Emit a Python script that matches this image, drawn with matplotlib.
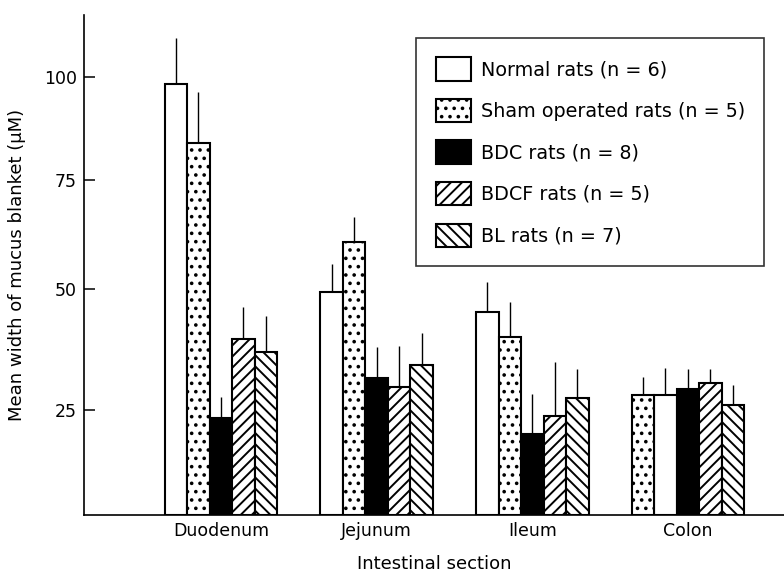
import numpy as np
import matplotlib
matplotlib.use("Agg")
import matplotlib.pyplot as plt

# data (mean and upper SD, in uM)
sections = ["Duodenum", "Jejunum", "Ileum", "Colon"]
series = ["Normal rats (n = 6)", "Sham operated rats (n = 5)", "BDC rats (n = 8)",
          "BDCF rats (n = 5)", "BL rats (n = 7)"]
normal = [98.3, 49.4, 45.2, 28.1]
sham = [84.0, 60.8, 40.1, 28.1]
bdc = [23.1, 31.6, 19.3, 29.3]
bdcf = [39.7, 29.8, 23.6, 30.6]
bl = [37.0, 34.3, 27.5, 26.0]
normal_err = [11.2, 6.3, 6.4, 5.6]
sham_err = [12.4, 5.7, 7.2, 3.7]
bdc_err = [4.6, 6.4, 9.0, 4.2]
bdcf_err = [6.6, 8.4, 11.3, 2.9]
bl_err = [7.4, 6.6, 6.0, 4.2]
yticks = [25, 50, 75, 100]

means = [normal, sham, bdc, bdcf, bl]
errs = [normal_err, sham_err, bdc_err, bdcf_err, bl_err]
fills = ["white", "white", "black", "white", "white"]
hatches = [None, "..", None, "///", "\\\\\\"]
# slot of each series inside a group (colon has sham and normal swapped)
slots = [[0, 1, 2, 3, 4]] * 3 + [[1, 0, 2, 3, 4]]

# the printed y axis is not evenly spaced; follow its tick positions
anchor_v = np.array([0, 25, 50, 75, 100, 125])
anchor_px = np.array([0, 105, 226, 335, 438, 541])


def fwd(v):
    return np.interp(v, anchor_v, anchor_px)


def inv(p):
    return np.interp(p, anchor_px, anchor_v)


plt.rcParams["font.family"] = ["DejaVu Sans"]
plt.rcParams["hatch.linewidth"] = 1.4

fig = plt.figure(figsize=(7.84, 5.75), dpi=100)
ax = fig.add_axes([84 / 784, 60 / 575, 700 / 784, 500 / 575])
ax.set_yscale("function", functions=(fwd, inv))

width = 0.1445
x = np.arange(len(sections))
for i, name in enumerate(series):
    pos = x + (np.array([s[i] for s in slots]) - 2) * width
    ax.bar(pos, means[i], width, color=fills[i], edgecolor="black",
           linewidth=1.5, hatch=hatches[i], label=name, zorder=2)
    top = np.array(means[i])
    ax.vlines(pos, top, top + np.array(errs[i]), color="black", linewidth=1.0, zorder=1)

ax.set_xlim(-0.880, 3.617)
ax.set_ylim(0, 115)
ax.set_xticks(x)
ax.set_xticklabels(sections, fontsize=12.5)
ax.set_yticks(yticks)
ax.set_yticklabels([str(t) for t in yticks], fontsize=12.5)
ax.tick_params(axis="x", length=0, pad=5)
ax.tick_params(axis="y", direction="in", length=8, width=1.1, pad=5)
for s in ["top", "right"]:
    ax.spines[s].set_visible(False)
for s in ["left", "bottom"]:
    ax.spines[s].set_linewidth(1.2)

ax.set_xlabel("Intestinal section", fontsize=13, labelpad=11)
ax.set_ylabel("Mean width of mucus blanket (\u03bcM)", fontsize=13)
ax.yaxis.set_label_coords(-0.083, 0.5)

leg = ax.legend(loc="upper right", bbox_to_anchor=(764 / 784, 1 - 38 / 575),
                bbox_transform=fig.transFigure, borderaxespad=0, fontsize=13.8,
                frameon=True, fancybox=False, edgecolor="black", handlelength=1.85,
                handleheight=1.5, labelspacing=0.95, handletextpad=0.5,
                borderpad=1.0)
leg.get_frame().set_linewidth(1.2)

fig.savefig("out.png", dpi=100)
